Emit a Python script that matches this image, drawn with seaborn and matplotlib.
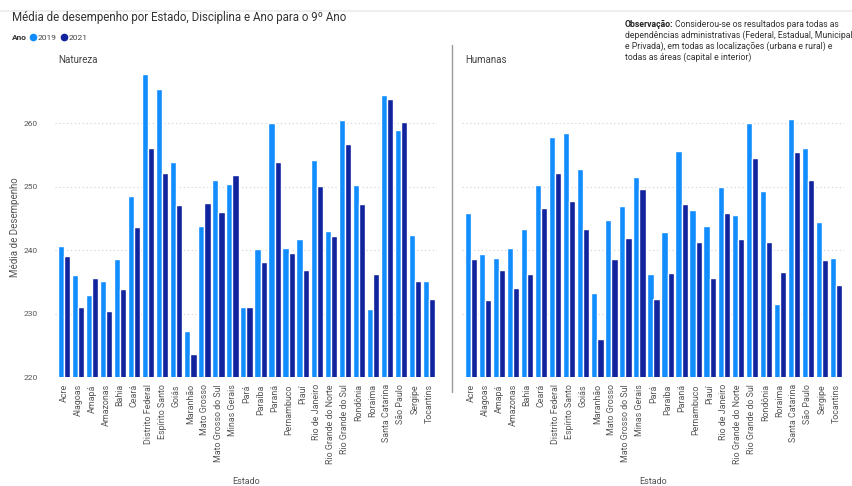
import pandas as pd
import seaborn as sns
import matplotlib.pyplot as plt
from matplotlib.lines import Line2D

# Dados
estados = ["Acre", "Alagoas", "Amapá", "Amazonas", "Bahia", "Ceará", "Distrito Federal",
           "Espírito Santo", "Goiás", "Maranhão", "Mato Grosso", "Mato Grosso do Sul",
           "Minas Gerais", "Pará", "Paraíba", "Paraná", "Pernambuco", "Piauí",
           "Rio de Janeiro", "Rio Grande do Norte", "Rio Grande do Sul", "Rondônia",
           "Roraima", "Santa Catarina", "São Paulo", "Sergipe", "Tocantins"]

natureza_2019 = [240.6, 236.1, 233.0, 235.2, 238.6, 248.5, 267.7, 265.4, 253.9, 227.3,
                 243.9, 251.1, 250.4, 231.0, 240.2, 260.1, 240.3, 241.8, 254.2, 243.0,
                 260.5, 250.3, 230.8, 264.5, 259.0, 242.4, 235.2]
natureza_2021 = [239.1, 231.0, 235.7, 230.4, 233.9, 243.6, 256.1, 252.2, 247.1, 223.6,
                 247.5, 246.1, 251.9, 231.0, 238.2, 253.9, 239.6, 236.9, 250.2, 242.3,
                 256.7, 247.3, 236.2, 263.8, 260.2, 235.1, 232.4]

humanas_2019 = [245.9, 239.4, 238.8, 240.3, 243.4, 250.3, 257.8, 258.4, 252.8, 233.2,
                244.7, 247.0, 251.6, 236.2, 242.9, 255.7, 246.3, 243.8, 249.9, 245.6,
                260.0, 249.4, 231.6, 260.6, 256.1, 244.4, 238.8]
humanas_2021 = [238.6, 232.2, 236.9, 234.1, 236.3, 246.7, 252.1, 247.8, 243.4, 226.1,
                238.6, 241.9, 249.7, 232.4, 236.4, 247.3, 241.3, 235.7, 245.9, 241.8,
                254.6, 241.3, 236.6, 255.5, 251.0, 238.4, 234.5]

anos = ["2019", "2021"]
cores = {"2019": "#118DFF", "2021": "#12239E"}

sns.set_style("white")
plt.rcParams['font.family'] = ['Roboto', 'DejaVu Sans']

W, H = 853, 486
fig = plt.figure(figsize=(W / 100, H / 100), dpi=100)


def monta(v19, v21):
    return pd.DataFrame({
        "Estado": estados * 2,
        "Ano": [anos[0]] * len(estados) + [anos[1]] * len(estados),
        "Media": v19 + v21,
    })


def painel(x0, titulo, v19, v21, mostra_y):
    y_top, y_bot, largura = 59.8, 377.3, 382
    ax = fig.add_axes([x0 / W, 1 - y_bot / H, largura / W, (y_bot - y_top) / H])
    sns.barplot(data=monta(v19, v21), x="Estado", y="Media", hue="Ano", palette=cores,
                width=0.88, gap=0, saturation=1, legend=False, ax=ax)
    ax.set_ylim(220, 270)
    ax.set_xlim(-0.6, 26.6)
    ax.set_yticks([220, 230, 240, 250, 260])
    ax.yaxis.grid(True, linestyle=(0, (1, 2.5)), color="#cfcfcf", linewidth=0.8)
    ax.set_axisbelow(True)
    for s in ax.spines.values():
        s.set_visible(False)
    ax.tick_params(axis="both", length=0, colors="#555555")
    ax.tick_params(axis="y", labelsize=6, pad=13)
    ax.tick_params(axis="x", labelsize=6.4, pad=5)
    plt.setp(ax.get_xticklabels(), rotation=90)
    if not mostra_y:
        ax.set_yticklabels([])
    ax.set_xlabel("")
    ax.set_ylabel("")
    fig.text((x0 + 3) / W, 1 - 60 / H, titulo, fontsize=7, color="#444444", va="center")
    fig.text((x0 + largura / 2) / W, 1 - 481 / H, "Estado", fontsize=6.5,
             color="#555555", ha="center", va="center")
    return ax


painel(55.5, "Natureza", natureza_2019, natureza_2021, True)
painel(462.5, "Humanas", humanas_2019, humanas_2021, False)

fig.text(15 / W, 1 - 227 / H, "Média de Desempenho", rotation=90, fontsize=7,
         color="#555555", ha="center", va="center")

# separador entre os painéis e linha superior
fig.add_artist(Line2D([452 / W, 452 / W], [1 - 45 / H, 1 - 392 / H],
                      color="#9a9a9a", linewidth=1))
fig.add_artist(Line2D([0, 1], [1 - 11 / H, 1 - 11 / H], color="#eeeeee", linewidth=1.5))

fig.text(12 / W, 1 - 18 / H, "Média de desempenho por Estado, Disciplina e Ano para o 9º Ano",
         fontsize=8.3, color="#333333", va="center")

# legenda
fig.text(12 / W, 1 - 38 / H, "Ano", fontsize=6, fontweight="bold", color="#333333",
         va="center")
alcas = [Line2D([], [], marker="o", linestyle="", color=cores[a], markersize=4.5) for a in anos]
fig.legend(alcas, anos, loc="center left", bbox_to_anchor=(29 / W, 1 - 38 / H), ncol=2,
           frameon=False, fontsize=6, handletextpad=0.05, columnspacing=0.4,
           handlelength=1, borderpad=0, borderaxespad=0, labelcolor="#444444")

# observação
linhas = ["Considerou-se os resultados para todas as",
          "dependências administrativas (Federal, Estadual, Municipal",
          "e Privada), em todas as localizações (urbana e rural) e",
          "todas as áreas (capital e interior)"]
x_obs = 625 / W
negrito = fig.text(x_obs, 1 - 24.5 / H, "Observação:", fontsize=6.2, fontweight="bold",
                   color="#222222", va="center")
fig.canvas.draw()
ext = negrito.get_window_extent(fig.canvas.get_renderer())
fig.text(ext.x1 / W + 2 / W, 1 - 24.5 / H, linhas[0], fontsize=6.2, color="#333333", va="center")
for i, texto in enumerate(linhas[1:]):
    fig.text(x_obs, 1 - (35.5 + 11 * i) / H, texto, fontsize=6.2, color="#333333", va="center")

fig.savefig("out.png", dpi=100)
